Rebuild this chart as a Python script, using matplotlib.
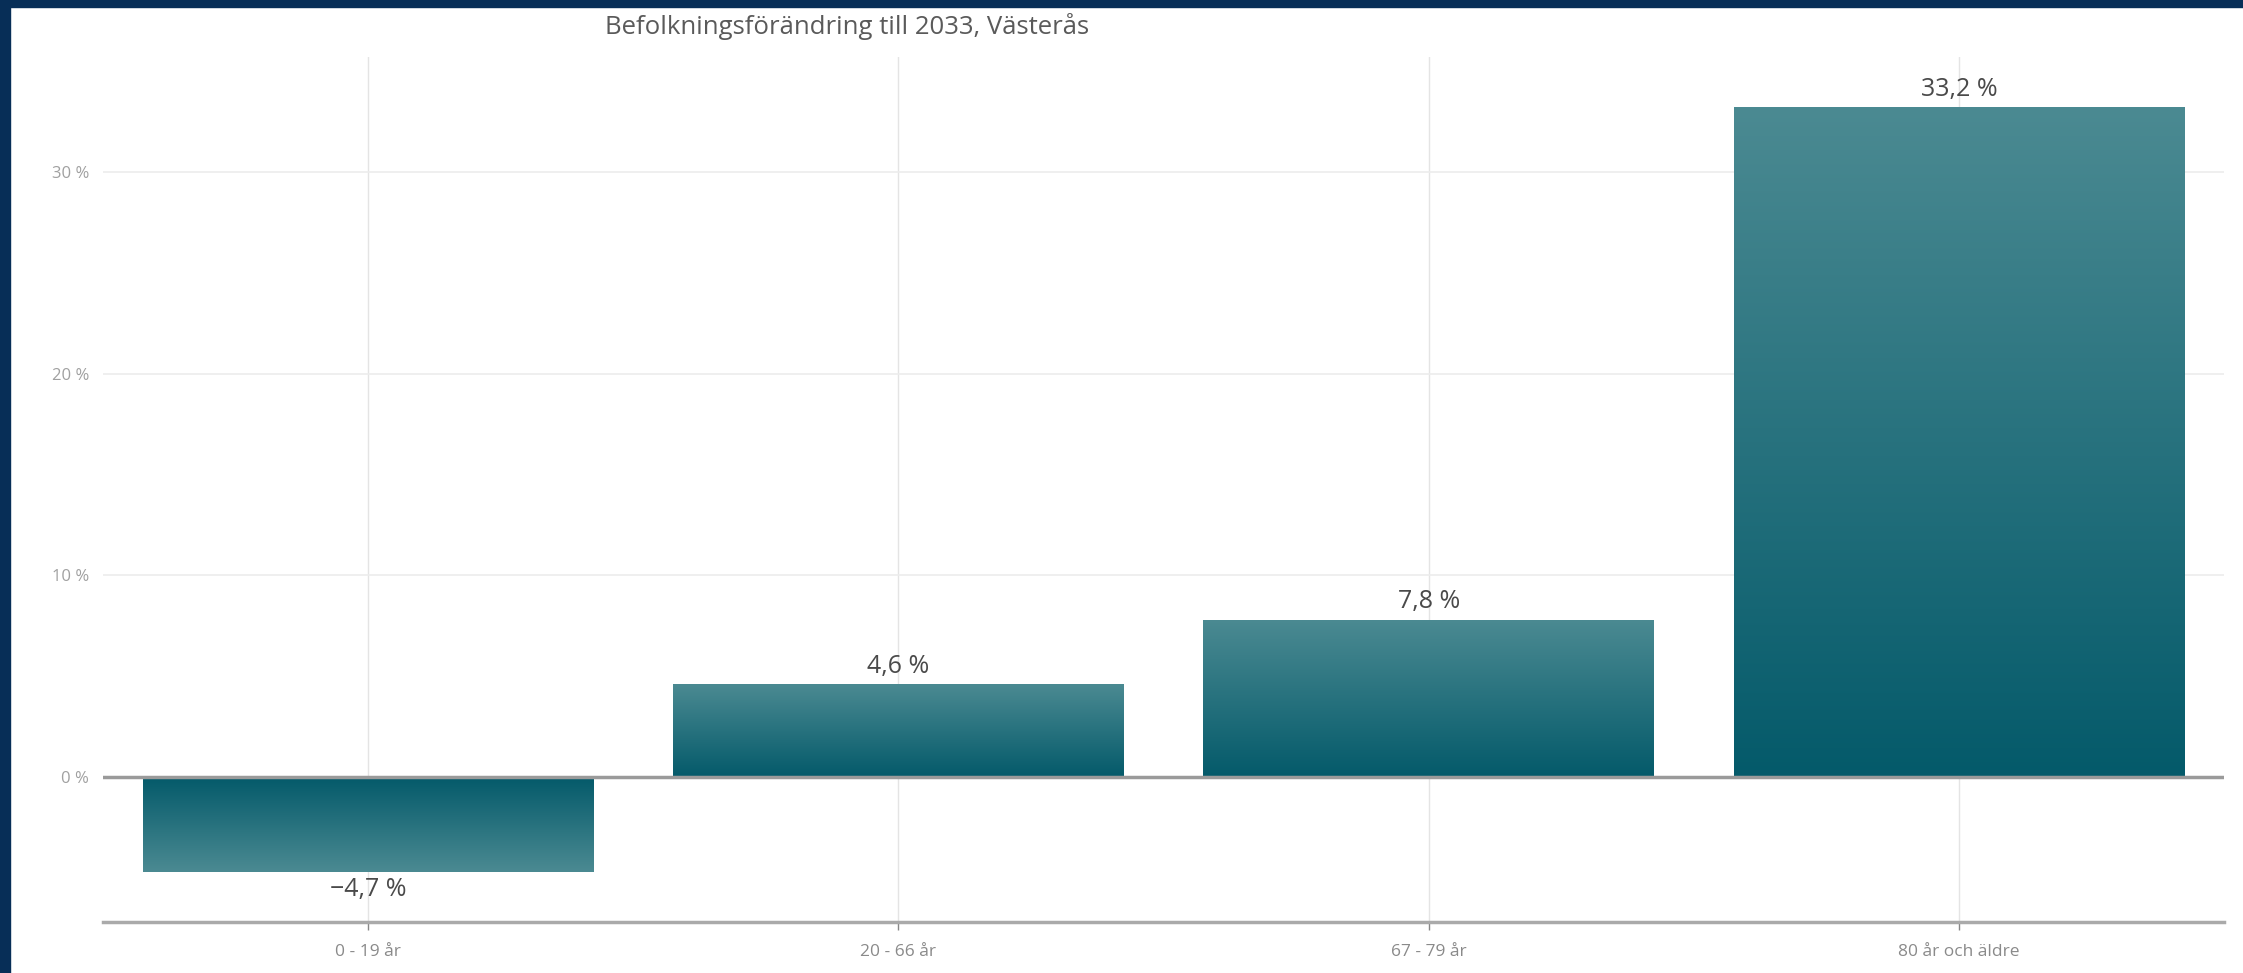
import numpy as np
import matplotlib.pyplot as plt
from matplotlib.colors import LinearSegmentedColormap
from matplotlib.patches import Rectangle

plt.rcParams['font.family'] = ['Open Sans', 'DejaVu Sans']

# Data
categories = ['0 - 19 år', '20 - 66 år', '67 - 79 år', '80 år och äldre']
values = [-4.7, 4.6, 7.8, 33.2]
value_labels = ['\u22124,7 %', '4,6 %', '7,8 %', '33,2 %']
yticks = [0, 10, 20, 30]
ytick_labels = ['0 %', '10 %', '20 %', '30 %']
title = 'Befolkningsförändring till 2033, Västerås'

fig = plt.figure(figsize=(22.43, 9.73), dpi=100, facecolor='white')

# navy frame on left and top
navy = '#072e57'
fig.patches.append(Rectangle((0, 0), 10 / 2243, 1, transform=fig.transFigure, color=navy, zorder=0))
fig.patches.append(Rectangle((0, 1 - 7 / 973), 1, 7 / 973, transform=fig.transFigure, color=navy, zorder=0))

ax = fig.add_axes([103 / 2243, 51 / 973, (2224 - 103) / 2243, (916 - 51) / 973])
ax.set_facecolor('white')

x = np.arange(len(categories))
width = 0.85
bars = ax.bar(x, values, width=width, color='none', zorder=3)

# gradient fill: dark near zero, lighter at the bar end
cmap = LinearSegmentedColormap.from_list('teal', ['#045a6a', '#4b8a92'])
grad = np.linspace(0, 1, 256).reshape(-1, 1)
for bar, v in zip(bars, values):
    x0 = bar.get_x()
    x1 = x0 + bar.get_width()
    img = grad if v >= 0 else grad[::-1]
    im = ax.imshow(img, cmap=cmap, aspect='auto', origin='lower',
                   extent=(x0, x1, min(0, v), max(0, v)), zorder=3)
    im.set_clip_path(bar)

ax.set_xlim(-0.5, 3.5)
ax.set_ylim(-7.2, 35.7)

# value labels
for xi, v, lab in zip(x, values, value_labels):
    if v >= 0:
        ax.annotate(lab, (xi, v), xytext=(0, 4), textcoords='offset points',
                    ha='center', va='bottom', fontsize=18, color='#4a4a4a')
    else:
        ax.annotate(lab, (xi, v), xytext=(0, -4), textcoords='offset points',
                    ha='center', va='top', fontsize=18, color='#4a4a4a')

# grid and zero line
ax.set_yticks(yticks)
ax.set_yticklabels(ytick_labels)
ax.set_xticks(x)
ax.set_xticklabels(categories)
ax.grid(True, axis='y', color='#ececec', linewidth=1.2, zorder=0)
ax.grid(True, axis='x', color='#e4e4e4', linewidth=1.0, zorder=0)
ax.axhline(0, color='#9a9a9a', linewidth=2.5, zorder=4)

for s in ['top', 'right', 'left']:
    ax.spines[s].set_visible(False)
ax.spines['bottom'].set_color('#aaaaaa')
ax.spines['bottom'].set_linewidth(2.5)

ax.tick_params(axis='y', length=0, pad=10, labelsize=12, labelcolor='#a0a0a0')
ax.tick_params(axis='x', length=6, width=1, color='#888888', pad=10, labelsize=12.5, labelcolor='#8a8a8a')

fig.text(605 / 2243, 1 - 26 / 973, title, ha='left', va='center', fontsize=18.5, color='#5a5a5a')

fig.savefig('out.png', dpi=100, facecolor='white')
